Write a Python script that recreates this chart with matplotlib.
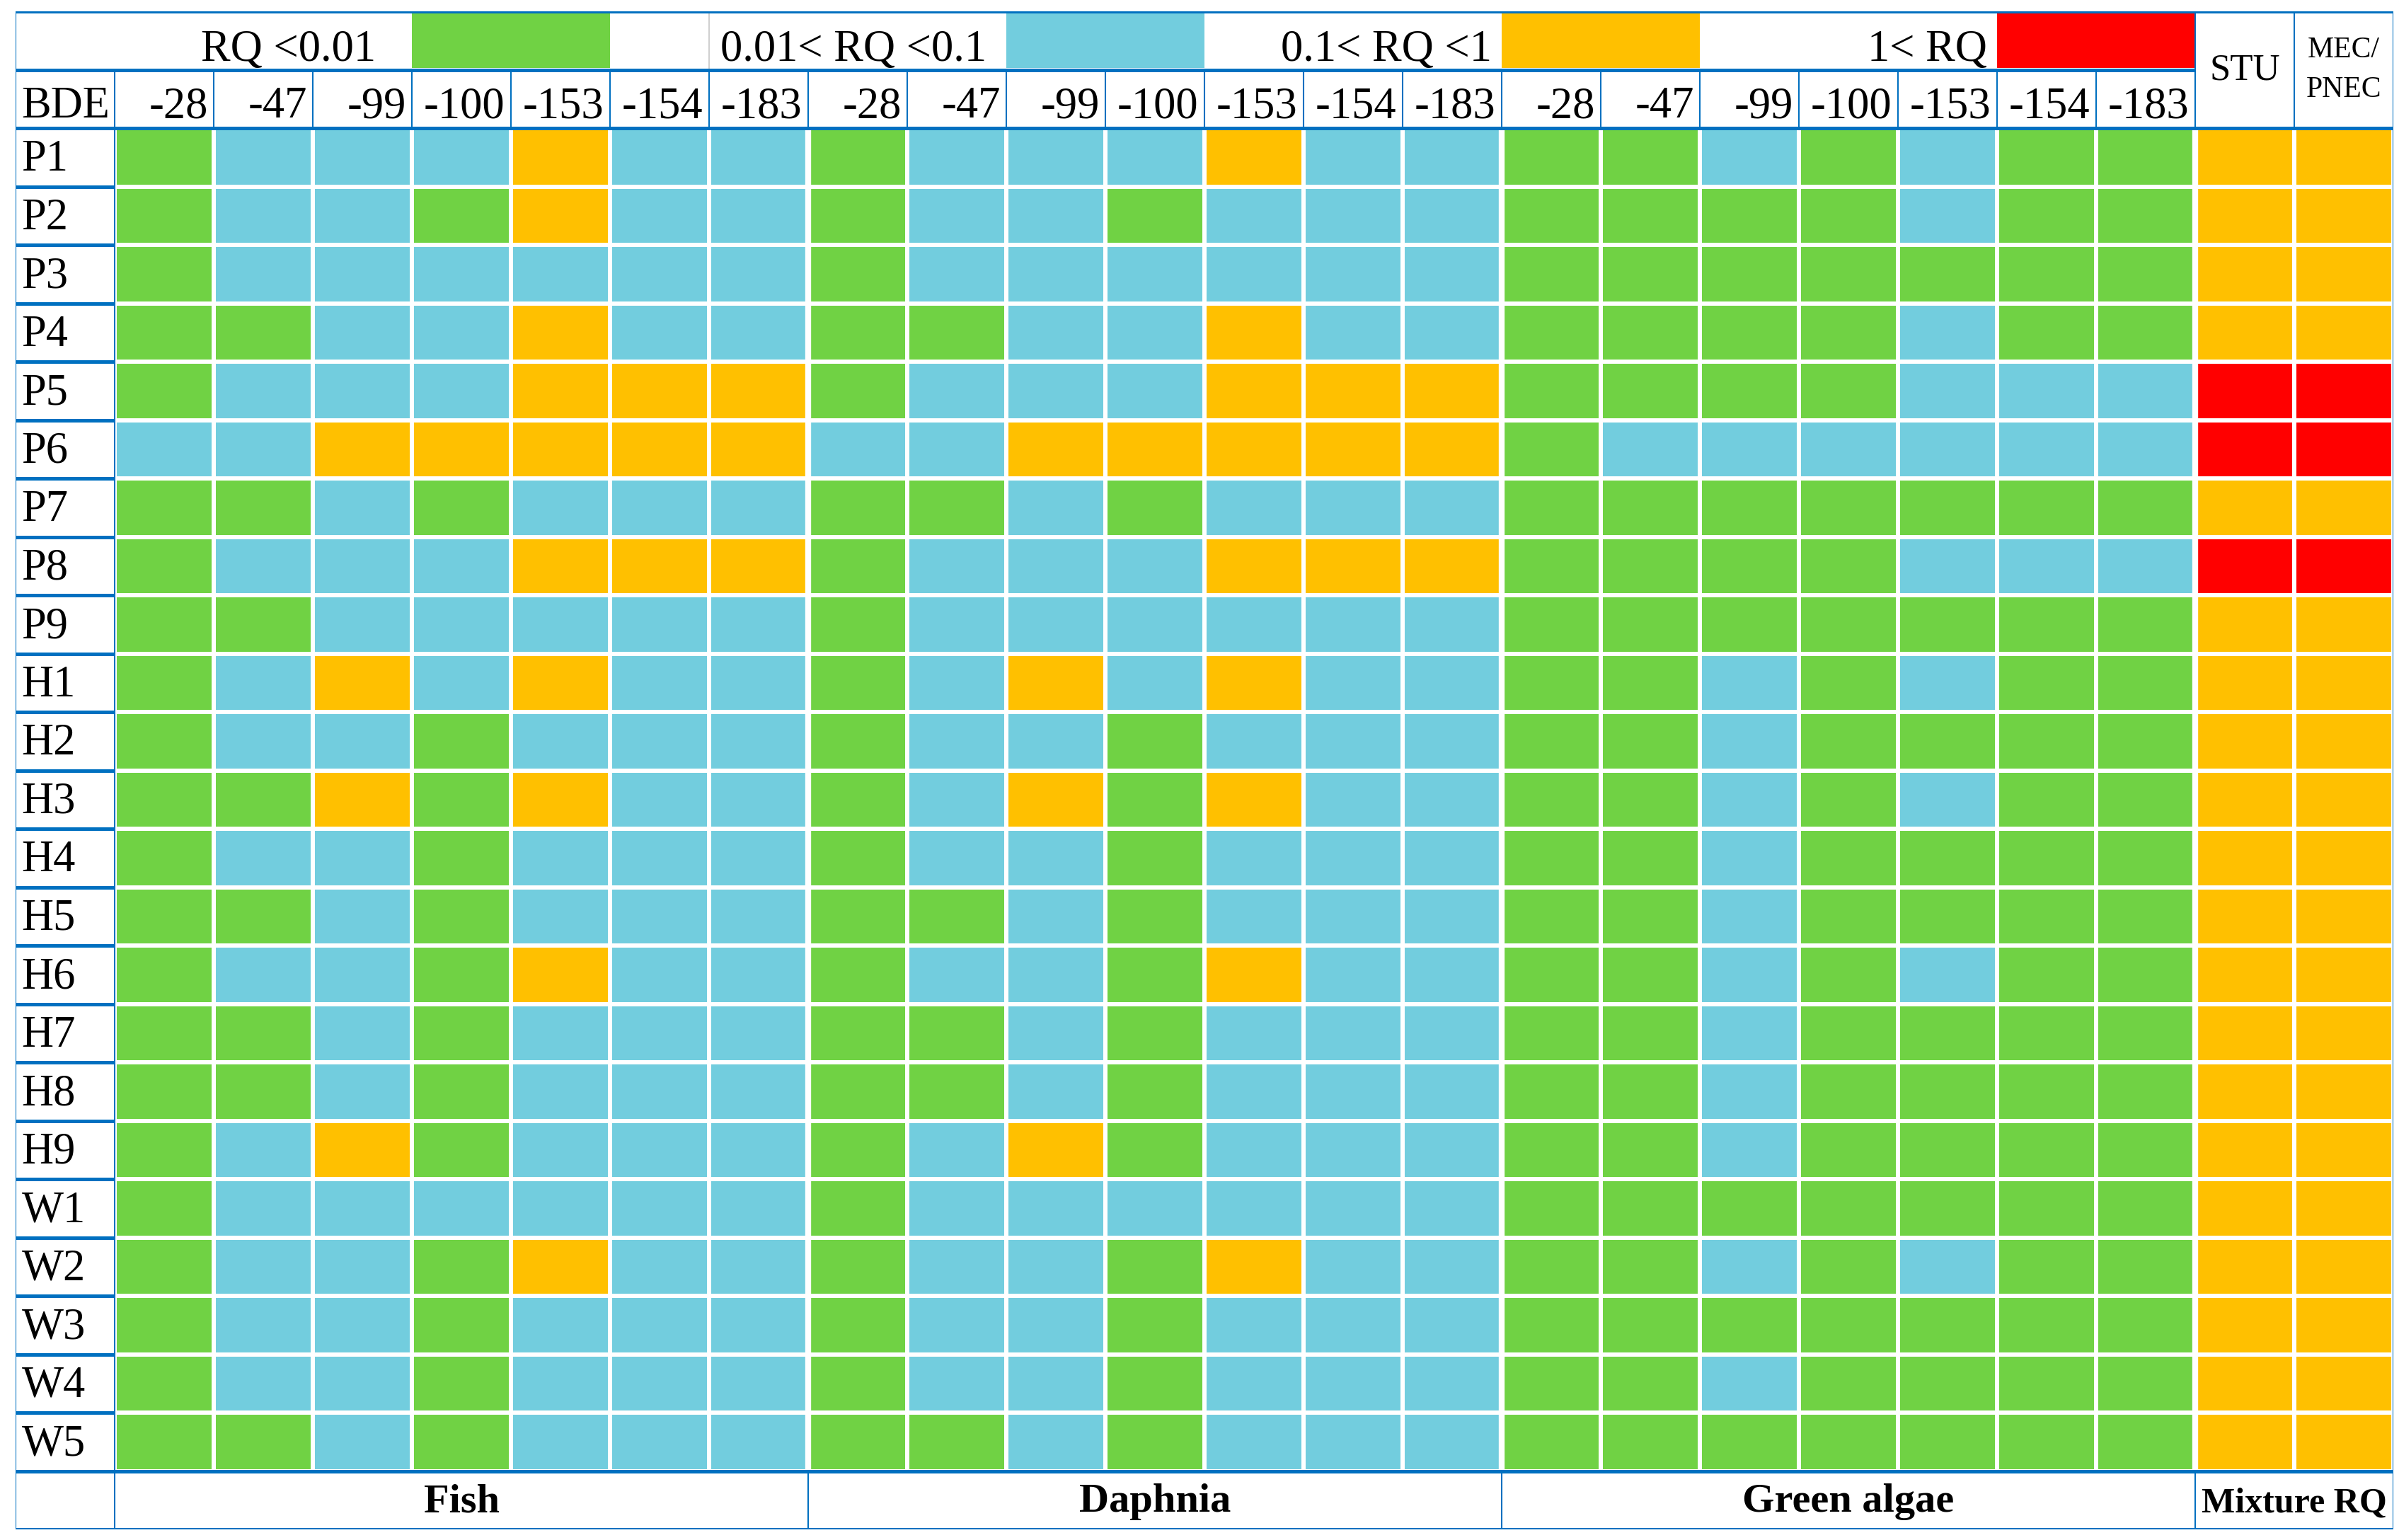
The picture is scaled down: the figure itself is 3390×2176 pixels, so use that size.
import numpy as np
import matplotlib.pyplot as plt
from matplotlib.colors import ListedColormap
from matplotlib.patches import Rectangle

plt.rcParams['font.family'] = ['Liberation Serif', 'DejaVu Serif']

sites = ["P1", "P2", "P3", "P4", "P5", "P6", "P7", "P8", "P9",
         "H1", "H2", "H3", "H4", "H5", "H6", "H7", "H8", "H9",
         "W1", "W2", "W3", "W4", "W5"]
congeners = ["-28", "-47", "-99", "-100", "-153", "-154", "-183"]
organisms = ["Fish", "Daphnia", "Green algae"]
mixture_cols = ["STU", "MEC/\nPNEC"]
legend_labels = ["RQ <0.01", "0.01< RQ <0.1", "0.1< RQ <1", "1< RQ"]
level_colors = ["#70D244", "#72CDDE", "#FFC000", "#FF0000"]

# G: RQ<0.01, B: 0.01<RQ<0.1, O: 0.1<RQ<1, R: RQ>1
fish = ["GBBBOBB", "GBBGOBB", "GBBBBBB", "GGBBOBB", "GBBBOOO", "BBOOOOO",
        "GGBGBBB", "GBBBOOO", "GGBBBBB", "GBOBOBB", "GBBGBBB", "GGOGOBB",
        "GBBGBBB", "GGBGBBB", "GBBGOBB", "GGBGBBB", "GGBGBBB", "GBOGBBB",
        "GBBBBBB", "GBBGOBB", "GBBGBBB", "GBBGBBB", "GGBGBBB"]
daphnia = ["GBBBOBB", "GBBGBBB", "GBBBBBB", "GGBBOBB", "GBBBOOO", "BBOOOOO",
           "GGBGBBB", "GBBBOOO", "GBBBBBB", "GBOBOBB", "GBBGBBB", "GBOGOBB",
           "GBBGBBB", "GGBGBBB", "GBBGOBB", "GGBGBBB", "GGBGBBB", "GBOGBBB",
           "GBBBBBB", "GBBGOBB", "GBBGBBB", "GBBGBBB", "GGBGBBB"]
algae = ["GGBGBGG", "GGGGBGG", "GGGGGGG", "GGGGBGG", "GGGGBBB", "GBBBBBB",
         "GGGGGGG", "GGGGBBB", "GGGGGGG", "GGBGBGG", "GGBGGGG", "GGBGBGG",
         "GGBGGGG", "GGBGGGG", "GGBGBGG", "GGBGGGG", "GGBGGGG", "GGBGGGG",
         "GGGGGGG", "GGBGBGG", "GGGGGGG", "GGBGGGG", "GGGGGGG"]
mixture = ["OO", "OO", "OO", "OO", "RR", "RR", "OO", "RR", "OO",
           "OO", "OO", "OO", "OO", "OO", "OO", "OO", "OO", "OO",
           "OO", "OO", "OO", "OO", "OO"]

codes = {"G": 0, "B": 1, "O": 2, "R": 3}
rows = [f + d + a + m for f, d, a, m in zip(fish, daphnia, algae, mixture)]
mat = np.array([[codes[c] for c in r] for r in rows])

blue = "#0070C0"
fs = 45

fig = plt.figure(figsize=(33.9, 21.76), dpi=100)
ax = fig.add_axes([22 / 3390, 1 - 2161 / 2176, 3360 / 3390, 2145 / 2176])
ax.set_xlim(0, 24)
ax.set_ylim(26, 0)
ax.axis("off")

ncol = mat.shape[1]
nrow = mat.shape[0]
xe = np.arange(1, ncol + 2)
ye = np.arange(2, nrow + 3)
ax.pcolormesh(xe, ye, mat, cmap=ListedColormap(level_colors), vmin=-0.5, vmax=3.5,
              edgecolors="white", linewidth=3)

# wider white gaps between groups
ax.vlines([8, 15, 22], 2, 25, color="white", lw=6)

# legend row
box_x = [4, 10, 15, 20]
text_x = [3.64, 9.8, 14.9, 19.9]
for lab, col, bx, tx in zip(legend_labels, level_colors, box_x, text_x):
    ax.add_patch(Rectangle((bx, 0.03), 2, 0.94, color=col, lw=0))
    ax.text(tx, 0.85, lab, ha="right", va="baseline", fontsize=fs)
ax.vlines(7, 0, 1, color="#d0d0d0", lw=1.5)

# header row
ax.text(0.06, 1.82, "BDE", ha="left", va="baseline", fontsize=fs)
for j, c in enumerate(congeners * len(organisms)):
    ax.text(j + 2 - 0.06, 1.82, c, ha="right", va="baseline", fontsize=fs)
ax.text(22.5, 1.17, mixture_cols[0], ha="center", va="baseline", fontsize=38)
ax.text(23.5, 1.0, mixture_cols[1], ha="center", va="center", fontsize=30,
        linespacing=1.6)

# site labels
for i, s in enumerate(sites):
    ax.text(0.06, 2 + i + 0.73, s, ha="left", va="baseline", fontsize=fs)

# bottom labels
for k, o in enumerate(organisms):
    ax.text(1 + 7 * k + 3.5, 25.7, o, ha="center", va="baseline", fontsize=42,
            fontweight="bold")
ax.text(23, 25.7, "Mixture RQ", ha="center", va="baseline", fontsize=36,
        fontweight="bold")

# table lines
ax.hlines(0, 0, 24, color=blue, lw=3.6)
ax.hlines(1, 0, 22, color=blue, lw=3.6)
ax.hlines([2, 25], 0, 24, color=blue, lw=3.6)
ax.hlines(26, 0, 24, color=blue, lw=3.6)
ax.hlines(np.arange(3, 25), 0, 1, color=blue, lw=3.6)
ax.vlines(np.arange(1, 23), 1, 2, color=blue, lw=1.5)
ax.vlines([22, 23, 24], 0, 2, color=blue, lw=1.5)
ax.vlines(0, 0, 26, color=blue, lw=1.5)
ax.vlines(1, 2, 25, color=blue, lw=1.5)
ax.vlines(24, 2, 26, color=blue, lw=1.5)
ax.vlines([1, 8, 15, 22], 25, 26, color=blue, lw=1.5)

fig.savefig("out.png", dpi=100)
